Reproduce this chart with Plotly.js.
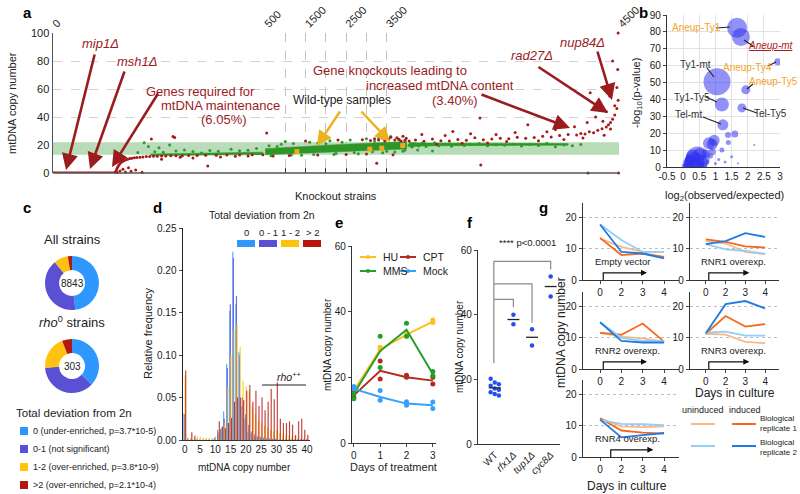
<!DOCTYPE html>
<html>
<head>
<meta charset="utf-8">
<script src="https://cdn.plot.ly/plotly-3.0.1.min.js"></script>
<style>
html,body{margin:0;padding:0;background:#fff;}
#chart{width:800px;height:494px;}
</style>
</head>
<body>
<div id="chart"></div>
<script>
// ===================== DATA =====================
// (a) mtDNA copy number per knockout strain (x = strain rank)
const rho0Idx  = [0, 15, 30, 45, 60, 75, 90, 105, 120, 135, 146];
const rho0Copy = [0, 0, 0, 0, 0, 0, 0, 0, 0, 0, 0];

const lowIdx  = [147,149,151,153,155,158,161,164,168,172,176,181,186,192,198,205,212,220,228,237,246,256,266,278,290,305,320,340,360,385,410,440,470,495];
const lowCopy = [0.6,1.8,3.2,4.5,5.6,6.7,7.6,8.3,9.0,9.5,9.9,10.3,10.6,10.9,11.1,11.3,11.5,11.7,11.8,11.9,12.0,12.1,12.2,12.3,12.3,12.4,12.5,12.5,12.6,12.7,12.8,12.9,13.0,13.1];

const redIdx = [152,158,165,171,178,184,195,210,232,256,283,287,300,330,365,395,430,460,
  542,700,1100,1500,1800,2300,2500,2900,3000,3100,3200,3253,3300,3400,3450,3550,3600,3655,3700,3750,3800,3850,3900,3950,3980,
  4005,4020,4040,4060,4080,4100,4120,4140,4160,4180,4200,4220,4240,4260,4280,4300,4320,4340,4360,4380,4400,4410,4420,4430,4440,4450,4460,4470,4475,4480,4485,4490,4495,4498,
  4035,4070,4090,4108,4130,4150,4172,4174,4190,4210,4235,4255,4285,4310,4330,4350,4370,4395,4415,4425,4427,4432,4445,4462,4465,4470,4478,4480,4485,4490,4495,4497,4498,4499];
const redCopy = [0.4,1.5,2.6,0.8,3.8,1.2,2.2,0.5,24.2,9.8,26,25.4,11.2,10.8,5,11.5,11.9,12.1,
  28.5,12.2,12.5,22.8,12.8,23.5,13.2,23.8,13.6,23.2,24.5,7,23.6,24.8,22.9,24.2,25.6,13,23.5,25.2,24.1,22.8,26.2,23.4,24.8,
  22.8,23.5,22.6,24.2,23.1,22.9,24.0,23.4,25.1,23.8,24.2,24.9,24.4,25.6,24.8,25.3,26.2,25.7,26.8,27.5,27.1,28.3,27.9,29.4,28.8,30.5,31.6,32.8,34.5,36.1,38.4,41.5,46,52,
  27.5,20.5,26.8,29.7,21.2,28,39.3,5.7,21.5,27.5,22.5,29,34.5,23,29.5,31,24,33,25,36,0,57.3,40,37,27,44,55,31.5,80,48,61,74,100,0];

const grnIdx = [200,215,225,240,250,260,275,290,310,330,350,370,390,420,440,460,480,
  600,800,900,1000,1200,1400,1600,1800,2000,2100,2200,2400,2600,2800,3000,3200,3300,3400,3600,3700,3800,3900,650,1150,1700,2250,2700,3150,3500,3950,
  4005,4012,4020,4028,4035,4045,4055,4065,4075,4090,4105,4120,4135,4150,4170,4190,4210,4230,4250,4270,4290,4310,4330,4350,4370,4390,4410,4025,4060];
const grnCopy = [14.6,21.6,19,15.2,18,14.9,20,15.8,16.5,15.3,14.2,16.1,15.5,17,15.9,16.2,17.5,
  19.5,18.9,20.5,22.5,21,12.6,22,21.4,20.9,23,13.2,22,23.5,13.8,24.5,22.6,25,14.5,26,15,23.8,15.5,12.4,12.8,13.3,14,14.6,15.1,15.6,16.4,
  19.8,18.5,20.6,19.2,21.3,18.9,20.1,21.6,19.5,20.4,19.1,20.8,19.7,20.3,21,19.4,20.2,19.8,20.6,19.2,20.3,19.7,21.2,18.8,20,19.5,20.4,16.5,15.8];

// dense cloud of strains with normal copy number (lower / upper envelope)
const bandIdx = [230,300,400,495, 505,1000,1500,2000,2500,3000,3500,3995, 4005,4030,4100,4200,4300,4380];
const bandLo  = [12.4,12.7,13.0,13.2, 13.0,13.6,14.2,14.7,15.3,15.9,16.5,17.2, 18.5,19.2,19.5,19.6,19.8,19.9];
const bandHi  = [13.6,14.2,14.6,14.9, 17.4,18.3,19.1,19.8,20.6,21.3,22.0,22.5, 22.0,21.4,21.0,21.0,21.1,21.0];

const wtIdx  = [1287, 3083, 3378, 3895];
const wtCopy = [15.3, 17.0, 17.7, 19.6];
const normalRange = [13, 22];
const rankTicks = [0, 500, 1000, 1500, 2000, 2500, 3000, 3500, 4000, 4500];

// (b) co-occurrence enrichment
const bLog2   = [1.67,1.79,2.93,1.94,1.05,1.2,1.82,1.23,1.6,1.39,0.96,0.9,0.8,0.9,1.2,1.4,2.2,0.45,0.35,0.5,0.25,0.4,0.3,0.15,0.05,0.6,0.7,0.55,0.2,0.1,1.3,1.5,1.7,1.0,0.75,0.65,1.1,0.85];
const bNegLog = [82.4,77,62.3,45.7,50.5,37,35,25,19.5,19,15.8,13.5,14,9,10,14.5,13,5,3,7,2,1,6,1.5,0.5,4,8,1,4,0.3,3,6,2,2,3,1,4.5,6.5];
const bSize   = [20,18,7,9,27,14,9,11,7,6,11,11,12,7,5,5,2,24,20,14,16,12,14,9,6,10,8,7,10,6,3,3,2,3,4,6,3,5];

// (c) total deviation from 2n
const devCats = ['0 (under-enriched, p=3.7*10-5)', '0-1 (not significant)', '1-2 (over-enriched, p=3.8*10-9)', '>2 (over-enriched, p=2.1*10-4)'];
const allStrainCounts = [4245, 3626, 752, 220];
const rho0StrainCounts = [112, 112, 61, 18];

// (d) histogram, relative frequency per copy-number bin
const copyBins = [0,1,2,3,4,5,6,7,8,9,10,11,12,13,14,15,16,17,18,19,20,21,22,23,24,25,26,27,28,29,30,31,32,33,34,35,36,37,38,39,40];
const freqDev0  = [0.031,0,0,0,0,0,0,0,0,0,0.003,0.012,0.013,0.034,0.09,0.152,0.222,0.16,0.104,0.04,0.025,0.01,0.008,0.004,0.003,0.002,0.002,0.001,0.001,0.001,0.001,0,0,0,0,0,0,0,0,0,0];
const freqDev01 = [0.03,0.002,0.001,0,0.001,0.001,0.001,0.001,0.001,0.001,0.002,0.008,0.013,0.025,0.085,0.16,0.215,0.17,0.1,0.05,0.03,0.018,0.01,0.007,0.005,0.004,0.003,0.003,0.002,0.002,0.002,0.001,0.001,0.001,0.001,0.001,0.001,0.001,0.001,0.001,0.001];
const freqDev12 = [0.076,0.003,0.002,0.002,0.004,0.004,0.003,0.003,0.003,0.002,0.004,0.01,0.015,0.02,0.063,0.1,0.13,0.137,0.11,0.07,0.063,0.058,0.04,0.03,0.022,0.02,0.017,0.015,0.012,0.01,0.012,0.008,0.007,0.006,0.005,0.004,0.004,0.003,0.003,0.002,0.002];
const freqDev2  = [0.082,0,0.009,0.005,0,0,0,0,0,0,0,0.022,0.016,0.014,0.02,0.026,0.045,0.05,0.05,0.047,0.058,0.065,0.045,0.058,0.04,0.05,0.035,0.045,0.06,0.048,0.068,0.025,0.02,0.02,0.022,0.018,0.006,0.022,0.025,0.012,0.006];
const devShort = ['0', '0 - 1', '1 - 2', '> 2'];

// (e) drug treatment time course
const treatDays = [0, 1, 2, 3];
const repDays = [0, 0, 1, 1, 2, 2, 3, 3];
const treatments = ['HU', 'CPT', 'MMS', 'Mock'];
const huMean = [16, 28.5, 33, 37];      const huReps = [15.5,16.5, 28.5,29.2, 32.5,33.5, 36.7,37.5];
const cptMean = [14.5, 22, 20, 19];     const cptReps = [14,15.2, 19.5,25, 20,20.6, 18,20];
const mmsMean = [15, 28, 34.5, 21];     const mmsReps = [13.5,15, 23,32.5, 32.5,36.5, 20.5,21.8];
const mockMean = [16.5, 14, 12, 11.5];  const mockReps = [16.5,17.2, 13,16, 11.5,12.6, 10.5,12.5];

// (f) deletion strains
const fStrains = ['WT', 'rfx1Δ', 'tup1Δ', 'cyc8Δ'];
const fValues = [[20.2,19,18.5,18,17.2,16.8,16,15.5,15], [40,37], [35.5,30.5], [51.8,45.6]];
const fPText = '**** p<0.0001';

// (g) RNR overexpression
const cultureDays = ['0', '2', '3', '4'];
const gNames = ['Empty vector', 'RNR1 overexp.', 'RNR2 overexp.', 'RNR3 overexp.', 'RNR4 overexp.'];
const gUnind1 = [[13.3,10.6,9,9],[12.5,11.7,9,8.3],[11.6,10.4,9.8,8.8],[11.3,11,8.7,8.3],[12.4,9.8,9.6,9.8]];
const gInd1   = [[13.5,8,8.5,7.4],[13,12.2,10.8,10.4],[11.6,11,14.6,8.8],[11.3,17,13.6,14.4],[12.4,8.5,7.8,7.5]];
const gUnind2 = [[17.8,12.8,9,9],[11.5,9.8,9.3,8.4],[15,10,9,9],[11.7,12,10.7,10.7],[11.8,10.6,10.5,10.2]];
const gInd2   = [[17.8,9,8.5,6.9],[11.5,12.5,15,13.8],[15,9,8.5,8.5],[11.5,20.8,21.8,19.4],[12,6.3,7,7.7]];

// ===================== STYLE / LAYOUT =====================
const F = '"Liberation Sans", Arial, Helvetica, sans-serif';
const W = 800, H = 494;
const xd = (a, b) => [a / W, b / W];
const yd = (top, bot) => [1 - bot / H, 1 - top / H];
const DR = '#9b1c1f', RED = '#a8191c', GRN = '#2e9b2a', YEL = '#e9b21f', OR = '#f5a52a';
const devColors = ['#2f98ff', '#5a50d4', '#ffc20e', '#b5170f'];
const traces = [], shapes = [], annotations = [];

function T(x, y, text, size, color, extra) {
  annotations.push(Object.assign({xref:'paper', yref:'paper', x:x/W, y:1-y/H, text:text, showarrow:false,
    xanchor:'center', yanchor:'middle', font:{family:F, size:size||11, color:color||'#222'}}, extra||{}));
}
function ARW(x0, y0, x1, y1, color, width, size) {
  annotations.push({xref:'paper', yref:'paper', x:x1/W, y:1-y1/H, ax:x0-x1, ay:y0-y1, text:'',
    showarrow:true, arrowhead:2, arrowsize:size, arrowwidth:width, arrowcolor:color, standoff:0, startstandoff:0});
}
function LN(x0, y0, x1, y1, color, width, dash) {
  shapes.push({type:'line', xref:'paper', yref:'paper', x0:x0/W, y0:1-y0/H, x1:x1/W, y1:1-y1/H,
    line:{color:color, width:width||1, dash:dash||'solid'}});
}
function RC(x0, y0, x1, y1, color) {
  shapes.push({type:'rect', xref:'paper', yref:'paper', x0:x0/W, y0:1-y0/H, x1:x1/W, y1:1-y1/H,
    line:{width:0}, fillcolor:color});
}
const base = {zeroline:false, showgrid:false, ticks:'', fixedrange:true, tickfont:{family:F, size:10, color:'#222'}};
const ax = o => Object.assign({}, base, o);

// ---------- (a) ----------
const segs = [[0,500],[500,4000],[4000,4500]];
const segAx = ['x','x2','x3'];
function split(xs, ys) {
  return segs.map(([a,b]) => {
    const X = [], Y = [];
    xs.forEach((v,i) => { if (v >= a && v <= b) { X.push(v); Y.push(ys[i]); } });
    return [X, Y];
  });
}
const bl = split(bandIdx, bandLo), bh = split(bandIdx, bandHi);
segAx.forEach((xa, k) => {
  const X = bl[k][0];
  if (X.length) traces.push({type:'scatter', mode:'lines', xaxis:xa, yaxis:'y', x:X.concat(X.slice().reverse()),
    y:bl[k][1].concat(bh[k][1].slice().reverse()), fill:'toself', fillcolor:'rgb(46,150,40)', line:{width:0.5, color:'rgb(46,150,40)'}, hoverinfo:'skip'});
});
[[grnIdx, grnCopy, GRN], [lowIdx, lowCopy, RED], [redIdx, redCopy, RED]].forEach(([xs, ys, c]) => {
  split(xs, ys).forEach(([X, Y], k) => {
    if (X.length) traces.push({type:'scatter', mode:'markers', xaxis:segAx[k], yaxis:'y', x:X, y:Y, cliponaxis:false,
      marker:{size:3, color:c}, hoverinfo:'skip'});
  });
});
traces.push({type:'scatter', mode:'lines', xaxis:'x', yaxis:'y', x:rho0Idx, y:rho0Copy, cliponaxis:false,
  line:{color:RED, width:3}, hoverinfo:'skip'});
split(wtIdx, wtCopy).forEach(([X, Y], k) => {
  if (X.length) traces.push({type:'scatter', mode:'markers', xaxis:segAx[k], yaxis:'y', x:X, y:Y,
    marker:{size:5, symbol:'square', color:'#f2a81c'}, hoverinfo:'skip'});
});
traces.push({type:'scatter', x:[], y:[], xaxis:'x4', yaxis:'y', hoverinfo:'skip'});
shapes.push({type:'rect', xref:'paper', yref:'y', x0:53/W, x1:619/W, y0:normalRange[0], y1:normalRange[1],
  fillcolor:'rgba(80,175,80,0.42)', line:{width:0}, layer:'below'});
LN(53, 173, 619, 173, '#555', 1.5);

const topTick = {side:'top', anchor:'y', tickangle:-45, tickfont:{family:F, size:11, color:'#222'},
  gridcolor:'#c4c4c4', griddash:'dash', gridwidth:1};
const seg2Ticks = rankTicks.filter(v => v >= 500 && v <= 4000);
const layout = {
  width:W, height:H, margin:{l:0, r:0, t:0, b:0}, showlegend:false, paper_bgcolor:'#fff', plot_bgcolor:'rgba(0,0,0,0)',
  font:{family:F, size:11, color:'#222'}, barmode:'overlay', hovermode:false,
  xaxis:  ax(Object.assign({}, topTick, {domain:xd(53,265), range:[0,500], tickvals:[0], ticktext:['0']})),
  xaxis2: ax(Object.assign({}, topTick, {domain:xd(265,407), range:[500,4000], showgrid:true, tickvals:seg2Ticks,
    ticktext:seg2Ticks.map(v => (v % 1000 === 500 ? String(v) : ''))})),
  xaxis3: ax(Object.assign({}, topTick, {domain:xd(407,619), range:[4000,4500], showgrid:true, tickvals:[4000,4500], ticktext:['','4500']})),
  xaxis4: ax({overlaying:'x2', anchor:'y', side:'bottom', range:[500,4000], tickvals:seg2Ticks, showticklabels:false,
    ticks:'inside', ticklen:5, tickcolor:'#333', tickwidth:1.2}),
  yaxis:  ax({domain:yd(33,173), range:[0,100], anchor:'x', tickvals:[0,20,40,60,80,100], showgrid:true, gridcolor:'#d2d2d2',
    griddash:'dash', showline:true, linecolor:'#555', linewidth:1.5, tickfont:{family:F, size:11, color:'#222'}}),
};
T(27, 13, '<b>a</b>', 15, '#000');
T(12, 103, 'mtDNA copy number', 11, '#222', {textangle:-90});
T(336, 196, 'Knockout strains', 11, '#222');
T(100, 44, '<i>mip1Δ</i>', 13, DR);
T(137, 62, '<i>msh1Δ</i>', 13, DR);
T(200, 91, 'Genes required for', 13, DR);
T(220, 105, 'mtDNA maintenance', 13, DR);
T(224, 119, '(6.05%)', 13, DR);
T(342, 100, 'Wild-type samples', 12, '#222');
T(390, 70, 'Gene knockouts leading to', 13, DR);
T(440, 85, 'increased mtDNA content', 13, DR);
T(455, 100, '(3.40%)', 13, DR);
T(532, 56, '<i>rad27Δ</i>', 13, DR);
T(582, 42, '<i>nup84Δ</i>', 13, DR);
ARW(95, 53, 66, 170, DR, 2.6, 1.25);
ARW(125, 70, 90, 169, DR, 2.6, 1.25);
ARW(159, 92, 112, 167, DR, 2.6, 1.25);
ARW(341, 110, 317, 146, YEL, 2.4, 1.25);
ARW(360, 110, 390, 142, YEL, 2.4, 1.25);
ARW(480, 94, 570, 128, DR, 2.6, 1.25);
ARW(537, 66, 608, 113, DR, 2.6, 1.25);
ARW(597, 50, 612, 100, DR, 2.6, 1.25);

// ---------- (b) ----------
traces.push({type:'scatter', mode:'markers', xaxis:'x5', yaxis:'y5', x:bLog2, y:bNegLog,
  marker:{size:bSize, sizemode:'diameter', color:'rgba(45,45,240,0.75)', line:{width:0}}, hoverinfo:'skip'});
layout.xaxis5 = ax({domain:xd(667,780), range:[-0.5,3], anchor:'y5', tickvals:[-0.5,0,0.5,1,1.5,2,2.5,3],
  ticktext:['-0.5','0','0.5','1','1.5','2','2.5','3'], showgrid:true, gridcolor:'#e2e2e2', showline:true, linecolor:'#333', linewidth:1.2});
layout.yaxis5 = ax({domain:yd(15,167), range:[0,90], anchor:'x5', tickvals:[0,10,20,30,40,50,60,70,80,90], showgrid:true,
  gridcolor:'#e2e2e2', showline:true, linecolor:'#333', linewidth:1.2, ticks:'outside', ticklen:3});
T(643, 13, '<b>b</b>', 15, '#000');
T(724, 196, 'log<sub>2</sub>(observed/expected)', 11);
T(637, 93, '-log<sub>10</sub>(p-value)', 11, '#222', {textangle:-90});
T(696, 28, 'Aneup-Ty1', 10, OR);
T(771, 46, '<i><u>Aneup-mt</u></i>', 10, '#b01c1c');
T(747, 67, 'Aneup-Ty4', 10, OR);
T(773, 81, 'Aneup-Ty5', 10, OR);
T(695, 64, 'Ty1-mt', 10, '#333');
T(692, 97, 'Ty1-Ty5', 10, '#333');
T(770, 113, 'Tel-Ty5', 10, '#333');
T(688, 114, 'Tel-mt', 10, '#333');
LN(716, 28, 730, 27, '#222', 1.2); LN(744, 40, 753, 46, '#222', 1.2); LN(768, 66, 776, 62, '#222', 1.2);
LN(753, 84, 747, 89, '#222', 1.2); LN(707, 68, 714, 77, '#222', 1.2); LN(706, 97, 717, 102, '#222', 1.2);
LN(743, 108, 757, 113, '#222', 1.2); LN(703, 117, 721, 124, '#222', 1.2);

// ---------- (c) ----------
const pieBase = {type:'pie', labels:devCats, hole:0.48, sort:false, direction:'clockwise', rotation:0,
  marker:{colors:devColors, line:{width:0}}, textinfo:'none', hoverinfo:'skip', showlegend:false};
traces.push(Object.assign({}, pieBase, {values:allStrainCounts, domain:{x:xd(45,99), y:yd(256,310)}}));
traces.push(Object.assign({}, pieBase, {values:rho0StrainCounts, domain:{x:xd(45,99), y:yd(339,393)}}));
T(27, 207, '<b>c</b>', 15, '#000');
T(72, 240, 'All strains', 13, '#222');
T(72, 283, String(allStrainCounts.reduce((a,b)=>a+b,0)), 10, '#222');
T(72, 322, '<i>rho</i><sup>0</sup> strains', 13, '#222');
T(72, 366, String(rho0StrainCounts.reduce((a,b)=>a+b,0)), 10, '#222');
T(14, 413, 'Total deviation from 2n', 11.5, '#222', {xanchor:'left'});
devCats.forEach((c, i) => {
  const y = 431 + i * 18;
  RC(20, y - 4, 28, y + 4, devColors[i]);
  T(31, y, c, 9, '#222', {xanchor:'left'});
});

// ---------- (d) ----------
[freqDev0, freqDev01, freqDev12, freqDev2].forEach((vals, k) => {
  traces.push({type:'bar', xaxis:'x6', yaxis:'y6', x:copyBins, y:vals, width:0.38, offset:-0.47 + k * 0.19,
    marker:{color:devColors[k], line:{width:0}}, opacity:0.82, hoverinfo:'skip'});
});
layout.xaxis6 = ax({domain:xd(183,310), range:[-0.6,41], anchor:'y6', tickvals:[0,5,10,15,20,25,30,35,40],
  showline:true, linecolor:'#333', linewidth:1});
layout.yaxis6 = ax({domain:yd(228,440), range:[0,0.25], anchor:'x6', tickvals:[0,0.05,0.1,0.15,0.2,0.25], tickformat:'.2f',
  ticks:'outside', ticklen:3, showline:true, linecolor:'#222', linewidth:1.5});
T(157, 207, '<b>d</b>', 15, '#000');
T(148, 333, 'Relative frequency', 11, '#222', {textangle:-90});
T(244, 467, 'mtDNA copy number', 10, '#222');
T(262, 215, 'Total deviation from 2n', 10.5, '#222');
devShort.forEach((s, k) => {
  const x0 = 237 + k * 22;
  T(x0 + 9, 232, s, 9.5, '#222');
  RC(x0, 240, x0 + 18, 247, devColors[k]);
});
LN(262, 385, 306, 385, '#222', 1);
T(289, 376, '<i>rho</i><sup>++</sup>', 10.5, '#222');

// ---------- (e) ----------
const eSeries = [[huMean, huReps, '#ffbf1f'], [cptMean, cptReps, '#b52a1e'], [mmsMean, mmsReps, '#23a02a'], [mockMean, mockReps, '#36a0ff']];
eSeries.forEach(([m, r, c]) => {
  traces.push({type:'scatter', mode:'lines', xaxis:'x7', yaxis:'y7', x:treatDays, y:m, line:{color:c, width:2}, hoverinfo:'skip'});
  traces.push({type:'scatter', mode:'markers', xaxis:'x7', yaxis:'y7', x:repDays, y:r, marker:{color:c, size:5}, cliponaxis:false, hoverinfo:'skip'});
});
layout.xaxis7 = ax({domain:xd(352,436), range:[-0.07,3.12], anchor:'y7', tickvals:treatDays, ticks:'outside', ticklen:3,
  showline:true, linecolor:'#333', linewidth:1.2});
layout.yaxis7 = ax({domain:yd(246,443), range:[0,60], anchor:'x7', tickvals:[0,20,40,60], ticks:'outside', ticklen:3,
  showline:true, linecolor:'#333', linewidth:1.2});
T(339, 222, '<b>e</b>', 15, '#000');
T(327, 345, 'mtDNA copy number', 10, '#222', {textangle:-90});
T(393, 467, 'Days of treatment', 11, '#222');
treatments.forEach((t, i) => {
  const lx = 360 + (i % 2) * 40, ly = 257 + Math.floor(i / 2) * 14;
  const c = eSeries[i][2];
  LN(lx, ly, lx + 16, ly, c, 2);
  shapes.push({type:'circle', xref:'paper', yref:'paper', x0:(lx+6)/W, x1:(lx+10)/W, y0:1-(ly+2)/H, y1:1-(ly-2)/H, fillcolor:c, line:{width:0}});
  T(lx + 21, ly, t, 10.5, '#222', {xanchor:'left'});
});

// ---------- (f) ----------
fValues.forEach((vals, i) => {
  const n = vals.length;
  const xs = vals.map((v, j) => i + (n > 3 ? ((j % 3) - 1) * 0.22 : 0));
  traces.push({type:'scatter', mode:'markers', xaxis:'x8', yaxis:'y8', x:xs, y:vals, marker:{color:'#2050f0', size:4.5}, hoverinfo:'skip'});
  const mean = vals.reduce((a,b)=>a+b,0) / n;
  traces.push({type:'scatter', mode:'lines', xaxis:'x8', yaxis:'y8', x:[i-0.32, i+0.32], y:[mean, mean], line:{color:'#222', width:1.3}, hoverinfo:'skip'});
});
layout.xaxis8 = ax({domain:xd(478,560), range:[-0.9,3.5], anchor:'y8', tickvals:[0,1,2,3],
  ticktext:fStrains.map((s, i) => i === 0 ? s : '<i>' + s + '</i>'), tickangle:-45, showline:true, linecolor:'#333', linewidth:1.2});
layout.yaxis8 = ax({domain:yd(250,444), range:[0,60], anchor:'x8', tickvals:[0,20,40,60], ticks:'outside', ticklen:3,
  showline:true, linecolor:'#333', linewidth:1.2});
[['M -0.05,25 L -0.05,56.5 L 3,56.5 L 3,54'], ['M -0.05,49.5 L 2,49.5 L 2,37.5'], ['M -0.05,44.7 L 1,44.7 L 1,42.3']].forEach(p => {
  shapes.push({type:'path', xref:'x8', yref:'y8', path:p[0], line:{color:'#8a8a8a', width:1.2}});
});
T(470, 222, '<b>f</b>', 15, '#000');
T(459, 347, 'mtDNA copy number', 10, '#222', {textangle:-90});
T(497, 243, fPText, 9.5, '#222', {xanchor:'left'});

// ---------- (g) ----------
const gCols = [xd(583,679), xd(690,779)];
const gRows = [yd(203,280), yd(292,369), yd(380,457)];
const gPos = [[0,0],[1,0],[0,1],[1,1],[0,2]];
const gArrow = [[0.15,2.2],[0.15,2.2],[0.15,2.2],[0.15,2.2],[0.5,2.5]];
const gColors = ['#f7b98a', '#f26b1d', '#94cdf5', '#1f7ae6'];
gNames.forEach((name, i) => {
  const xa = 'x' + (9 + i), ya = 'y' + (9 + i);
  [gUnind1[i], gInd1[i], gUnind2[i], gInd2[i]].forEach((vals, k) => {
    traces.push({type:'scatter', mode:'lines', xaxis:xa, yaxis:ya, x:cultureDays, y:vals, line:{color:gColors[k], width:1.8}, hoverinfo:'skip'});
  });
  layout['xaxis' + (9 + i)] = ax({domain:gCols[gPos[i][0]], anchor:ya, type:'category', categoryorder:'array', categoryarray:cultureDays,
    range:[-0.8,3.7], ticks:'outside', ticklen:3, showline:true, linecolor:'#333', linewidth:1.3});
  layout['yaxis' + (9 + i)] = ax({domain:gRows[gPos[i][1]], anchor:xa, range:[0,24.7], tickvals:[0,10,20], ticks:'outside', ticklen:3,
    showgrid:true, gridcolor:'#bdbdbd', griddash:'dot', showline:true, linecolor:'#333', linewidth:1.3});
  const [s, e] = gArrow[i];
  shapes.push({type:'path', xref:xa, yref:ya, path:`M ${s},0 L ${s},2.3 L ${e-0.2},2.3`, line:{color:'#111', width:1.2}});
  annotations.push({xref:xa, yref:ya, x:e, y:2.3, axref:xa, ayref:ya, ax:e-0.3, ay:2.3, text:'', showarrow:true,
    arrowhead:2, arrowsize:1, arrowwidth:1.2, arrowcolor:'#111', standoff:0});
  annotations.push({xref:xa, yref:ya, x:-0.35, y:5.8, text:name, showarrow:false, xanchor:'left', yanchor:'middle',
    font:{family:F, size:9.5, color:'#222'}});
});
T(543, 207, '<b>g</b>', 15, '#000');
T(561, 333, 'mtDNA copy number', 12, '#222', {textangle:-90});
T(735, 393, 'Days in culture', 12, '#222');
T(627, 486, 'Days in culture', 12, '#222');
T(703, 410, 'uninduced', 9, '#222');
T(745, 410, 'induced', 9, '#222');
LN(691, 424, 715, 424, gColors[0], 2); LN(732, 424, 756, 424, gColors[1], 2);
LN(691, 446, 715, 446, gColors[2], 2); LN(732, 446, 756, 446, gColors[3], 2);
T(758, 423, 'Biological<br>replicate 1', 8, '#222', {xanchor:'left', align:'left'});
T(758, 447, 'Biological<br>replicate 2', 8, '#222', {xanchor:'left', align:'left'});

layout.shapes = shapes;
layout.annotations = annotations;
Plotly.newPlot('chart', traces, layout, {staticPlot:true, displayModeBar:false});
</script>
</body>
</html>
